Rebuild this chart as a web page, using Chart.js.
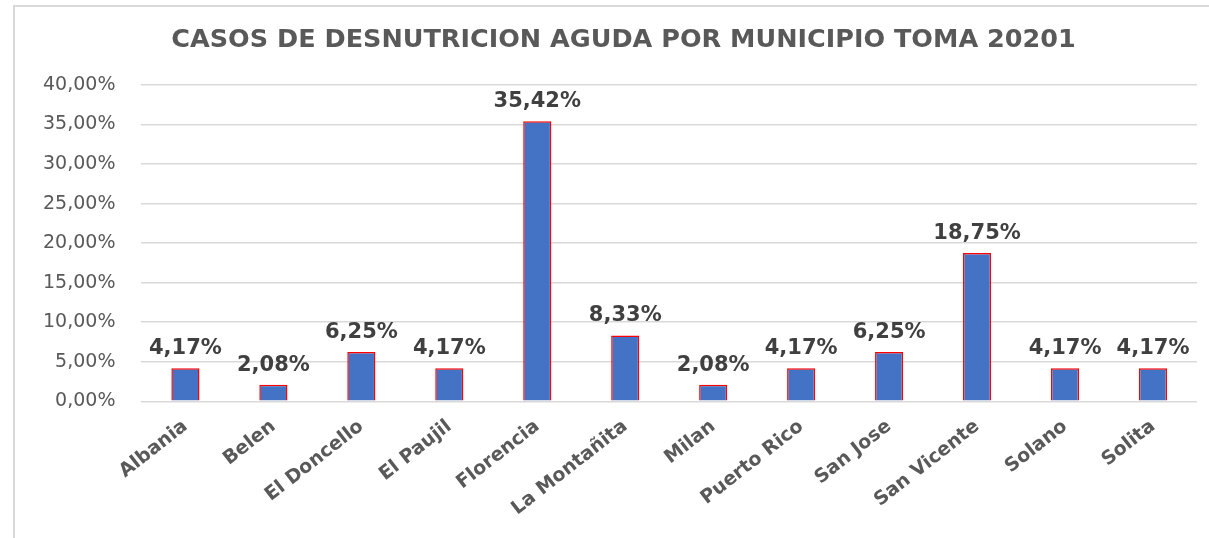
<!DOCTYPE html>
<html>
<head>
<meta charset="utf-8">
<script src="https://cdn.jsdelivr.net/npm/chart.js@4/dist/chart.umd.min.js"></script>
<style>
  html, body { margin: 0; padding: 0; background: #fff; overflow: hidden; }
  #wrap { position: absolute; left: 0; top: 0; width: 1209px; height: 538px; }
</style>
</head>
<body>
<div id="wrap"><canvas id="casosChart"></canvas></div>
<script>
const municipios = ['Albania', 'Belen', 'El Doncello', 'El Paujil', 'Florencia', 'La Montañita',
  'Milan', 'Puerto Rico', 'San Jose', 'San Vicente', 'Solano', 'Solita'];
const porcentajes = [4.17, 2.08, 6.25, 4.17, 35.42, 8.33, 2.08, 4.17, 6.25, 18.75, 4.17, 4.17];
const titulo = 'CASOS DE DESNUTRICION AGUDA POR MUNICIPIO TOMA 20201';

function formatoPct(v, dec) {
  return v.toFixed(dec).replace('.', ',') + '%';
}

// marco gris arriba y a la izquierda
const marco = {
  id: 'marco',
  beforeDraw(chart) {
    const ctx = chart.ctx;
    ctx.save();
    ctx.fillStyle = '#ffffff';
    ctx.fillRect(0, 0, chart.width, chart.height);
    ctx.strokeStyle = '#d9d9d9';
    ctx.lineWidth = 2;
    ctx.beginPath();
    ctx.moveTo(14, chart.height);
    ctx.lineTo(14, 6);
    ctx.lineTo(chart.width, 6);
    ctx.stroke();
    ctx.restore();
  }
};

// titulo centrado sobre el marco (el titulo de Chart.js solo reserva el espacio)
const tituloMarco = {
  id: 'tituloMarco',
  afterDraw(chart) {
    const ctx = chart.ctx;
    ctx.save();
    ctx.font = 'bold 25.5px "DejaVu Sans"';
    ctx.fillStyle = '#595959';
    ctx.textAlign = 'center';
    ctx.textBaseline = 'middle';
    ctx.fillText(titulo, (14 + chart.width) / 2 + 12, 40);
    ctx.restore();
  }
};

// etiquetas encima de cada barra
const etiquetas = {
  id: 'etiquetas',
  afterDatasetsDraw(chart) {
    const ctx = chart.ctx;
    const meta = chart.getDatasetMeta(0);
    ctx.save();
    ctx.font = 'bold 21px "DejaVu Sans"';
    ctx.fillStyle = '#404040';
    ctx.textAlign = 'center';
    ctx.textBaseline = 'bottom';
    meta.data.forEach((bar, i) => {
      ctx.fillText(formatoPct(porcentajes[i], 2), bar.x, bar.y - 9);
    });
    ctx.restore();
  }
};

new Chart('casosChart', {
  type: 'bar',
  data: {
    labels: municipios,
    datasets: [{
      data: porcentajes,
      backgroundColor: '#4472C4',
      borderColor: '#FF0000',
      borderWidth: 1.5,
      barPercentage: 0.64,
      categoryPercentage: 0.5
    }]
  },
  options: {
    responsive: true,
    maintainAspectRatio: false,
    animation: false,
    layout: { padding: { left: 17, right: 12, top: 0, bottom: 12 } },
    plugins: {
      legend: { display: false },
      tooltip: { enabled: false },
      title: {
        display: true,
        text: titulo,
        color: 'rgba(0,0,0,0)',
        font: { family: 'DejaVu Sans', size: 25, weight: 'bold' },
        padding: { top: 24, bottom: 31 }
      }
    },
    scales: {
      x: {
        grid: { display: false },
        border: { display: false },
        ticks: {
          color: '#595959',
          font: { family: 'DejaVu Sans', size: 19, weight: 'bold' },
          minRotation: 38,
          maxRotation: 38,
          padding: 6
        }
      },
      y: {
        min: 0,
        max: 40,
        grid: { color: '#d9d9d9', lineWidth: 1.5, drawTicks: false },
        border: { display: false },
        ticks: {
          stepSize: 5,
          color: '#595959',
          padding: 26,
          font: { family: 'DejaVu Sans', size: 19 },
          callback: function(value) { return formatoPct(value, 2); }
        }
      }
    }
  },
  plugins: [marco, etiquetas, tituloMarco]
});
</script>
</body>
</html>
